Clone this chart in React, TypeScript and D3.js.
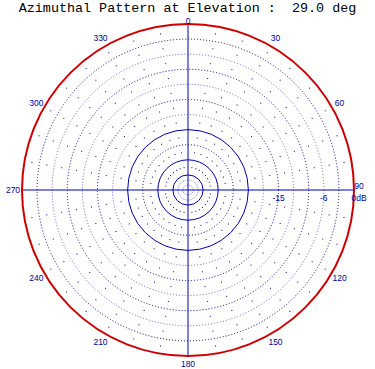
import React from "react";
import * as d3 from "d3";

const title = "Azimuthal Pattern at Elevation :  29.0 deg";
const angleLabels = [0, 30, 60, 90, 120, 150, 180, 210, 240, 270, 300, 330];
const ringDb = [-3, -6, -9, -12, -15, -18, -24];
const solidRingDb = [-21, -27, -30];
const innerLightDb = [-31, -32];
const dotDb = [-1.5, -4.5, -7.5, -10.5, -13.5, -16.5, -19.5, -22.5, -25.5, -28.5];
const radialAngles = d3.range(0, 360, 10);
const dbLabels = [-15, -6];
const dbMin = -33;
const dbMax = 0;

export default function App() {
  const W = 375, H = 369;
  const cx = 188, cy = 190, R = 166;
  const r = d3.scaleLinear().domain([dbMin, dbMax]).range([0, R]);
  const pt = (deg: number, rad: number) => {
    const a = (deg * Math.PI) / 180;
    return [cx + rad * Math.sin(a), cy - rad * Math.cos(a)];
  };
  const blue = "#0000c0";
  return (
    <svg width={W} height={H} style={{ position: "absolute", left: 0, top: 0, background: "#fff" }}>
      <text x={W / 2} y={11.5} textAnchor="middle" fontFamily="'Liberation Mono', monospace" fontSize={13.4}
        fill="#000" style={{ whiteSpace: "pre" }} xmlSpace="preserve">
        {title}
      </text>
      {radialAngles.filter((a) => a % 90 !== 0).map((a) =>
        dotDb.map((d) => {
          const [x, y] = pt(a, r(d));
          return <rect key={a + "_" + d} x={x - 0.5} y={y - 0.5} width={1} height={1} fill="#000080" />;
        })
      )}
      {ringDb.map((d, i) => (
        <circle key={d} cx={cx} cy={cy} r={r(d)} fill="none"
          stroke={i % 2 === 0 ? "#000090" : "#6060d8"} strokeWidth={1} strokeDasharray="1,2" />
      ))}
      {innerLightDb.map((d) => (
        <circle key={d} cx={cx} cy={cy} r={r(d)} fill="none" stroke="#8080f0" strokeWidth={1} strokeDasharray="1,1" />
      ))}
      {solidRingDb.map((d) => (
        <circle key={d} cx={cx} cy={cy} r={r(d)} fill="none" stroke="#0000b0" strokeWidth={1} />
      ))}
      <line x1={cx - R} x2={cx + R} y1={cy} y2={cy} stroke={blue} strokeWidth={1} />
      <line x1={cx} x2={cx} y1={cy - R} y2={cy + R} stroke={blue} strokeWidth={1} />
      <circle cx={cx} cy={cy} r={r(dbMax)} fill="none" stroke="#d00000" strokeWidth={2} />
      {angleLabels.map((a) => {
        const rr = a === 0 ? 169 : a === 180 ? 174 : 175;
        let [x, y] = pt(a, rr);
        if (a === 90) { x = 359; y = cy - 4; }
        return (
          <text key={a} x={x} y={y} textAnchor="middle" dominantBaseline="central"
            fontFamily="'Liberation Sans', Arial, sans-serif" fontSize={8.5} fill="#0000a0">
            {a}
          </text>
        );
      })}
      {dbLabels.map((d) => (
        <text key={d} x={cx + r(d)} y={cy + 8} textAnchor="middle" dominantBaseline="central"
          fontFamily="'Liberation Sans', Arial, sans-serif" fontSize={8.5} fill="#0000a0">
          {d}
        </text>
      ))}
      <text x={359} y={cy + 8} textAnchor="middle" dominantBaseline="central"
        fontFamily="'Liberation Sans', Arial, sans-serif" fontSize={8.5} fill="#0000a0">
        0dB
      </text>
    </svg>
  );
}
